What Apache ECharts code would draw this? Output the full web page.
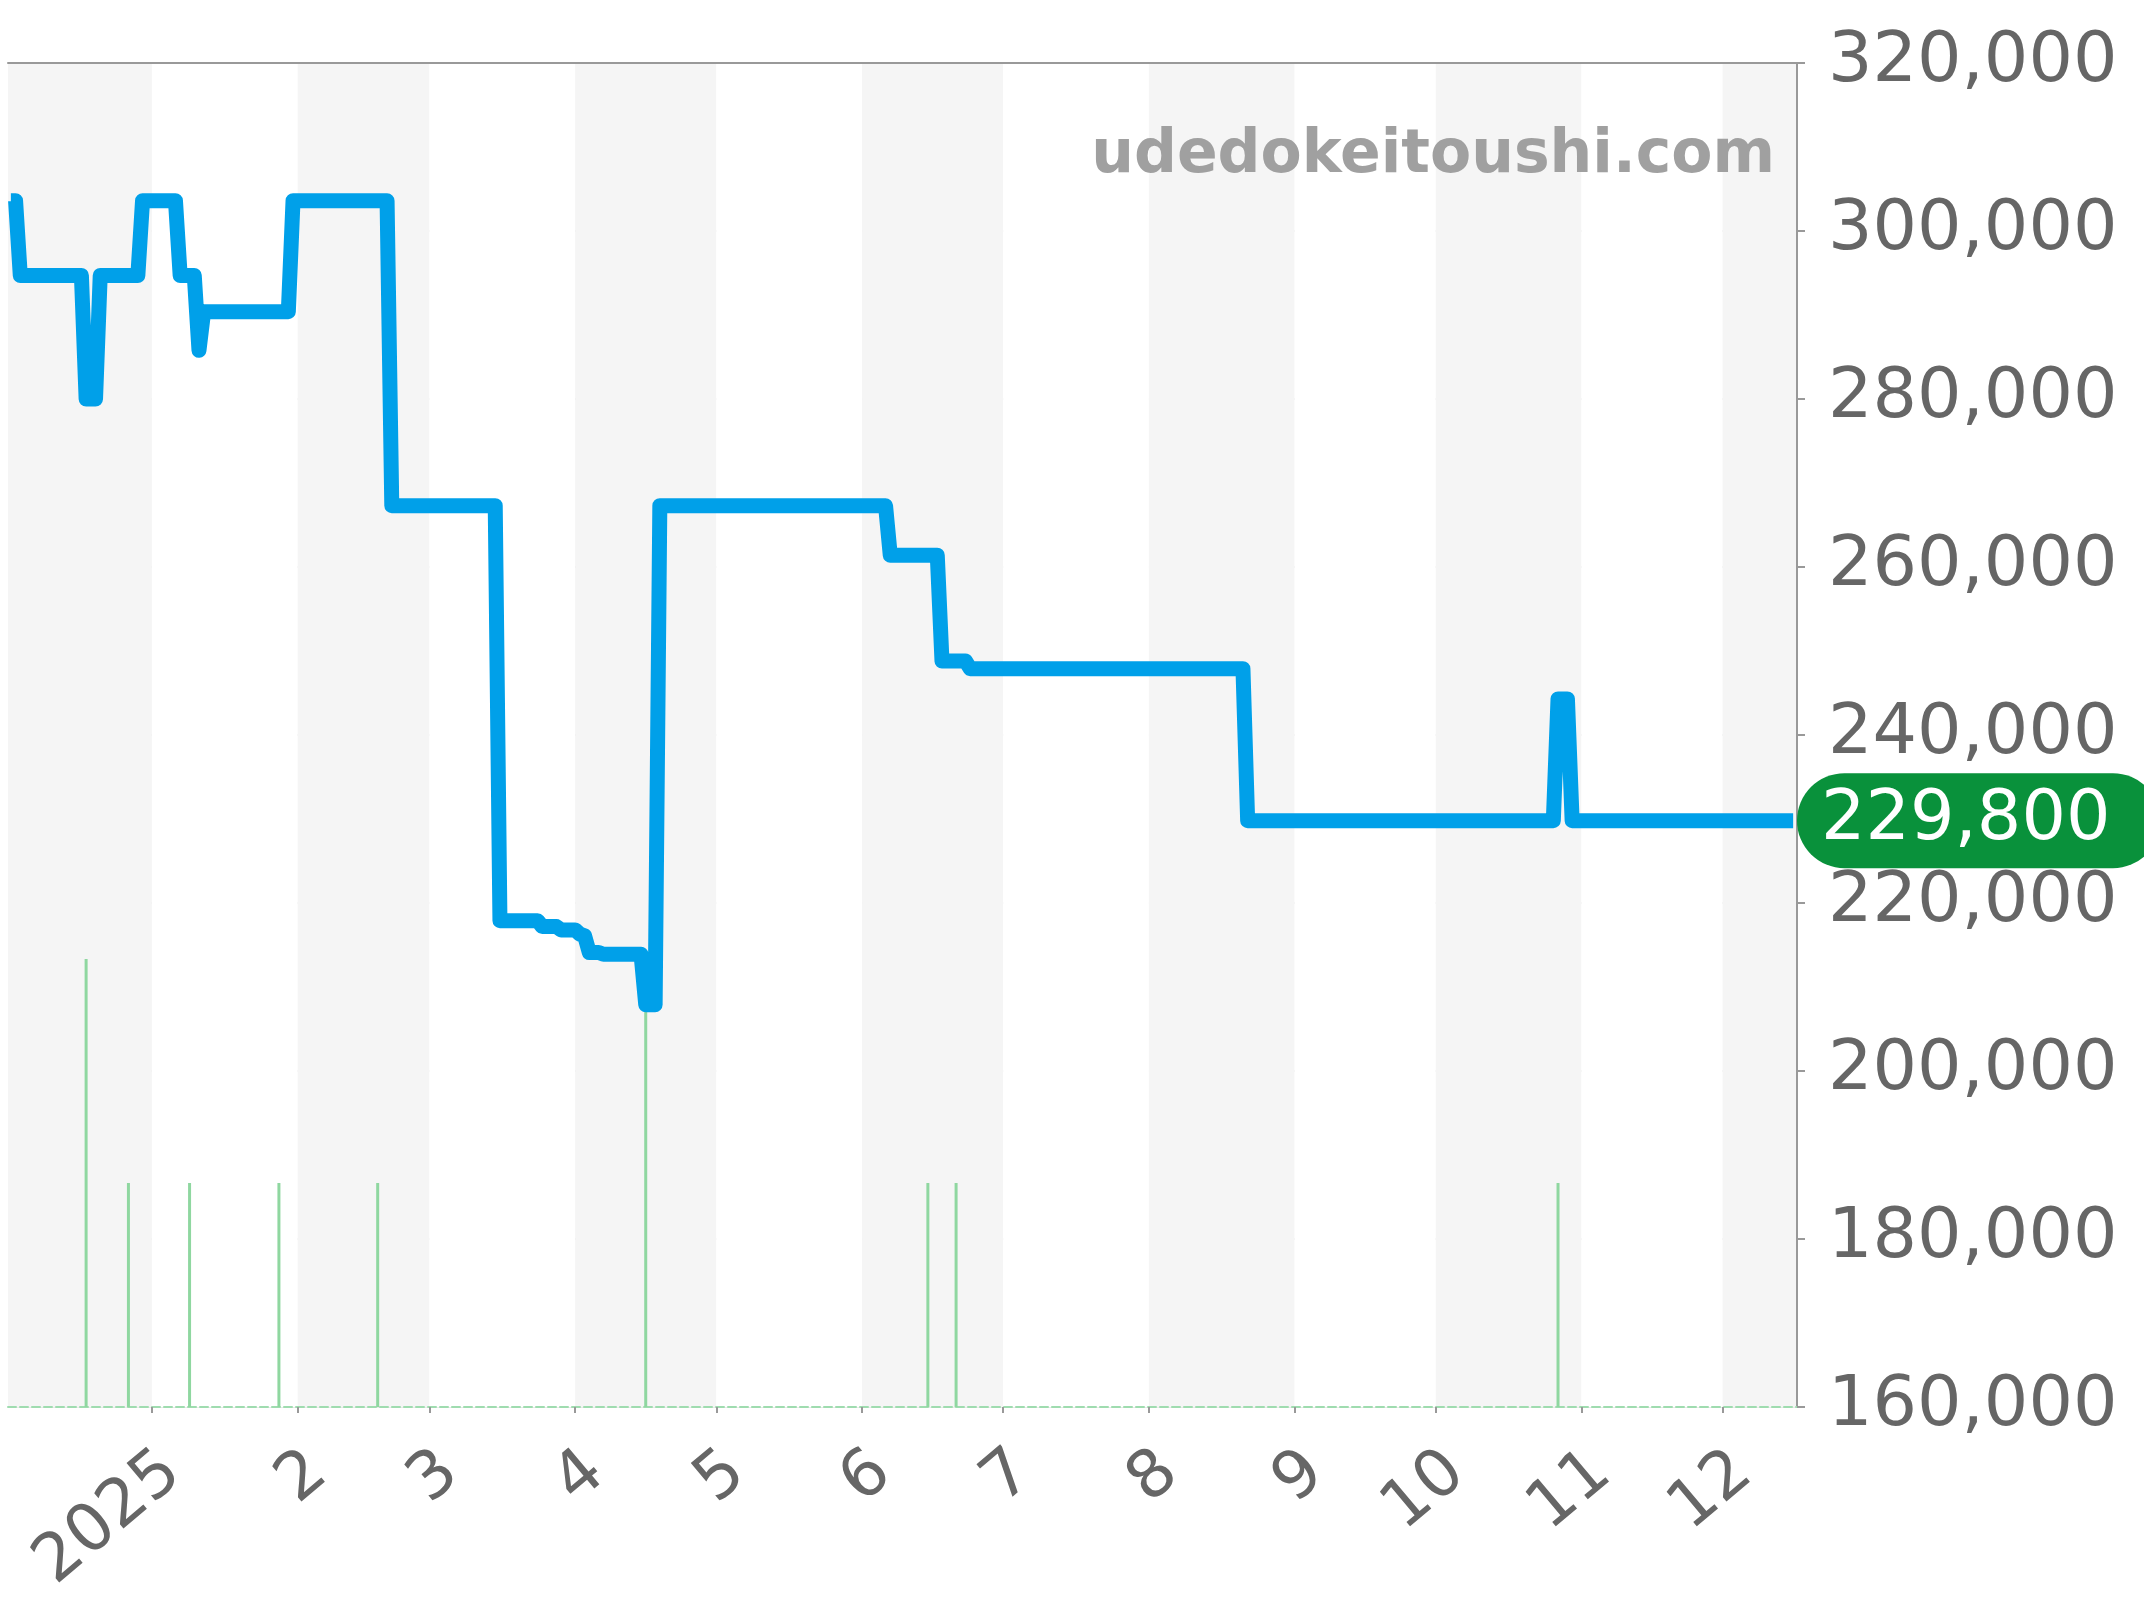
<!DOCTYPE html>
<html>
<head>
<meta charset="utf-8">
<script src="https://cdn.jsdelivr.net/npm/echarts@6/dist/echarts.min.js"></script>
<style>
  html, body { margin: 0; padding: 0; background: #fff; }
  #main { width: 2144px; height: 1600px; }
</style>
</head>
<body>
<div id="main"></div>
<script>
// price line (points where the price changes)
var priceDates = [
  '2024-12-02', '2024-12-03', '2024-12-04', '2024-12-17', '2024-12-18', '2024-12-20',
  '2024-12-21', '2024-12-29', '2024-12-30', '2025-01-06', '2025-01-07', '2025-01-10',
  '2025-01-11', '2025-01-12', '2025-01-30', '2025-01-31', '2025-02-20', '2025-02-21',
  '2025-03-15', '2025-03-16', '2025-03-24', '2025-03-25', '2025-03-28', '2025-03-29',
  '2025-04-01', '2025-04-02', '2025-04-03', '2025-04-04', '2025-04-06', '2025-04-07',
  '2025-04-15', '2025-04-16', '2025-04-18', '2025-04-19', '2025-06-06', '2025-06-07',
  '2025-06-17', '2025-06-18', '2025-06-23', '2025-06-24', '2025-08-21', '2025-08-22',
  '2025-10-26', '2025-10-27', '2025-10-29', '2025-10-30', '2025-12-16'
];
var prices = [
  303600, 303600, 294700, 294700, 280000, 280000,
  294700, 294700, 303600, 303600, 294700, 294700,
  285800, 290400, 290400, 303600, 303600, 267300,
  267300, 217900, 217900, 217200, 217200, 216800,
  216800, 216300, 216100, 214100, 214100, 213900,
  213900, 207900, 207900, 267300, 267300, 261400,
  261400, 248800, 248800, 247900, 247900, 229800,
  229800, 244300, 244300, 229800, 229800
];

// green bars
var countDates = ['2024-12-18', '2024-12-27', '2025-01-09', '2025-01-28', '2025-02-18',
                  '2025-04-16', '2025-06-15', '2025-06-21', '2025-10-27'];
var counts = [2, 1, 1, 1, 1, 2, 1, 1, 1];

var yMin = 160000, yMax = 320000, yStep = 20000;
var xStart = '2024-12-01T17:00:00', xEnd = '2025-12-16T12:00:00';
var siteName = 'udedokeitoushi.com';

function fmt(v) {
  return String(v).replace(/\B(?=(\d{3})+(?!\d))/g, ',');
}

var lastPrice = prices[prices.length - 1];
var font = 'DejaVu Sans';
var day = 24 * 3600 * 1000;

var chart = echarts.init(document.getElementById('main'));
chart.setOption({
  animation: false,
  textStyle: { fontFamily: font },
  grid: { left: 8, right: 347, top: 63, bottom: 193 },
  xAxis: [
    {
      type: 'time',
      min: xStart,
      max: xEnd,
      minInterval: 28 * day,
      maxInterval: 31 * day,
      axisLine: { lineStyle: { color: '#9fdcaf', width: 2, type: 'dashed' } },
      axisTick: { show: true, length: 6, lineStyle: { color: '#999', width: 2 } },
      axisLabel: {
        rotate: 40,
        align: 'right',
        verticalAlign: 'top',
        margin: 32,
        fontSize: 66,
        color: '#666',
        fontFamily: font,
        showMinLabel: false,
        showMaxLabel: false,
        formatter: function (val) {
          var d = new Date(val);
          if (d.getDate() !== 1 || d.getHours() !== 0) return '';
          return d.getMonth() === 0 ? String(d.getFullYear()) : String(d.getMonth() + 1);
        }
      },
      splitLine: { show: false },
      splitArea: { show: true, areaStyle: { color: ['#f5f5f5', '#ffffff'] } }
    },
    {
      type: 'time',
      position: 'top',
      min: xStart,
      max: xEnd,
      axisLine: { lineStyle: { color: '#999', width: 2 } },
      axisTick: { show: false },
      axisLabel: { show: false },
      splitLine: { show: false }
    }
  ],
  yAxis: [
    {
      type: 'value',
      position: 'right',
      min: yMin,
      max: yMax,
      interval: yStep,
      axisLine: { show: true, lineStyle: { color: '#999', width: 2 } },
      axisTick: { show: true, length: 8, lineStyle: { color: '#999', width: 2 } },
      axisLabel: {
        margin: 31,
        fontSize: 70,
        color: '#666',
        fontFamily: font,
        padding: [16, 0, 0, 0],
        formatter: function (v) { return fmt(v); }
      },
      splitLine: { lineStyle: { color: '#e2e2e2', width: 1.5 } }
    },
    {
      type: 'value',
      min: 0,
      max: 6,
      show: false,
      splitLine: { show: false }
    }
  ],
  graphic: [{
    type: 'text',
    right: 369,
    top: 126,
    z: 1,
    style: {
      text: siteName,
      font: 'bold 60px "DejaVu Sans"',
      fill: '#a0a0a0'
    }
  }],
  series: [
    {
      type: 'bar',
      xAxisIndex: 0,
      yAxisIndex: 1,
      barWidth: 3,
      itemStyle: { color: '#8fd7a0' },
      data: countDates.map(function (d, i) { return [d, counts[i]]; })
    },
    {
      type: 'line',
      xAxisIndex: 0,
      yAxisIndex: 0,
      showSymbol: false,
      symbol: 'none',
      z: 3,
      lineStyle: { color: '#00a0e9', width: 15, cap: 'butt', join: 'round' },
      data: priceDates.map(function (d, i) { return [d, prices[i]]; }),
      markLine: {
        silent: true,
        symbol: 'none',
        lineStyle: { color: 'rgba(0,0,0,0)', width: 1, opacity: 1 },
        data: [{ yAxis: lastPrice }],
        label: {
          show: true,
          position: 'end',
          distance: 0,
          opacity: 1,
          formatter: function () { return fmt(lastPrice); },
          color: '#fff',
          fontSize: 70,
          fontFamily: font,
          backgroundColor: '#09913b',
          borderRadius: 48,
          padding: [12, 50, 13, 24]
        }
      }
    }
  ]
});
</script>
</body>
</html>
